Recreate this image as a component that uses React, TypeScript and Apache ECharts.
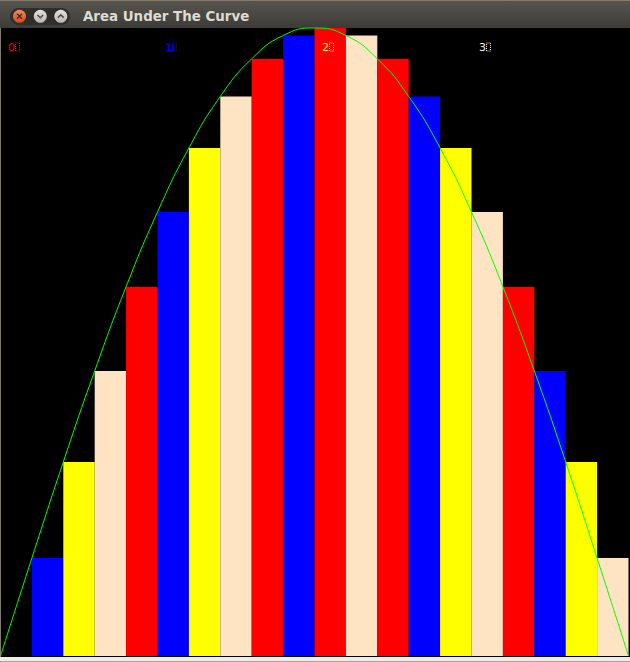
import React, { useEffect, useRef } from "react";
import * as echarts from "echarts";

// Bar index categories (20 left-Riemann rectangles over 0..π)
const categories = [
  "0", "1", "2", "3", "4", "5", "6", "7", "8", "9",
  "10", "11", "12", "13", "14", "15", "16", "17", "18", "19",
];
// Bar heights (fraction of the plot height)
const barValues = [
  0, 0.156, 0.309, 0.454, 0.588, 0.707, 0.809, 0.891, 0.951, 0.988,
  1.0, 0.988, 0.951, 0.891, 0.809, 0.707, 0.588, 0.454, 0.309, 0.156,
];
// Bar colours as seen
const barColors = [
  "#ff0000", "#0000ff", "#ffff00", "#ffe4c4", "#ff0000", "#0000ff", "#ffff00", "#ffe4c4", "#ff0000", "#0000ff",
  "#ff0000", "#ffe4c4", "#ff0000", "#0000ff", "#ffff00", "#ffe4c4", "#ff0000", "#0000ff", "#ffff00", "#ffe4c4",
];
// Curve heights at the 21 rectangle edges
const curveEdges = [0, 1, 2, 3, 4, 5, 6, 7, 8, 9, 10, 11, 12, 13, 14, 15, 16, 17, 18, 19, 20];
const curveValues = [
  0, 0.156, 0.309, 0.454, 0.588, 0.707, 0.809, 0.891, 0.951, 0.988,
  1.0, 0.988, 0.951, 0.891, 0.809, 0.707, 0.588, 0.454, 0.309, 0.156, 0,
];
// Tick labels along the top, at edges 0, 5, 10, 15
const tickLabels = ["0", "1", "2", "3"];
const tickEdges = [0, 5, 10, 15];
const tickColors = ["#ff0000", "#0000ff", "#ffff00", "#f4f0e8"];

const TITLE = "Area Under The Curve";

export default function App() {
  const ref = useRef<HTMLDivElement>(null);

  useEffect(() => {
    document.body.style.margin = "0";
    const chart = echarts.init(ref.current!, null, { renderer: "svg" });

    const chrome: any[] = [
      {
        type: "rect",
        shape: { x: 0, y: 0, width: 630, height: 28 },
        style: {
          fill: new echarts.graphic.LinearGradient(0, 0, 0, 1, [
            { offset: 0, color: "#58564f" },
            { offset: 1, color: "#3c3b37" },
          ]),
        },
        silent: true,
      },
      { type: "rect", shape: { x: 0, y: 0, width: 630, height: 1 }, style: { fill: "#857c6e" }, silent: true },
      {
        type: "rect",
        shape: { x: 10, y: 8, width: 60, height: 17, r: 8.5 },
        style: { fill: "#2f2e2b" },
        silent: true,
      },
      {
        type: "circle",
        shape: { cx: 19.5, cy: 16.3, r: 6.5 },
        style: {
          fill: new echarts.graphic.LinearGradient(0, 0, 0, 1, [
            { offset: 0, color: "#f58a62" },
            { offset: 1, color: "#d9471c" },
          ]),
        },
        silent: true,
      },
      { type: "line", shape: { x1: 17, y1: 13.8, x2: 22, y2: 18.8 }, style: { stroke: "#4a2a20", lineWidth: 1.5 }, silent: true },
      { type: "line", shape: { x1: 22, y1: 13.8, x2: 17, y2: 18.8 }, style: { stroke: "#4a2a20", lineWidth: 1.5 }, silent: true },
      {
        type: "circle",
        shape: { cx: 40.3, cy: 16.3, r: 6.5 },
        style: {
          fill: new echarts.graphic.LinearGradient(0, 0, 0, 1, [
            { offset: 0, color: "#e4e2dd" },
            { offset: 1, color: "#b9b6b0" },
          ]),
        },
        silent: true,
      },
      { type: "polyline", shape: { points: [[37.5, 15], [40.3, 17.8], [43.1, 15]] }, style: { stroke: "#4b4a46", lineWidth: 1.5, fill: null }, silent: true },
      {
        type: "circle",
        shape: { cx: 60.8, cy: 16.3, r: 6.5 },
        style: {
          fill: new echarts.graphic.LinearGradient(0, 0, 0, 1, [
            { offset: 0, color: "#e4e2dd" },
            { offset: 1, color: "#b9b6b0" },
          ]),
        },
        silent: true,
      },
      { type: "polyline", shape: { points: [[58, 17.6], [60.8, 14.8], [63.6, 17.6]] }, style: { stroke: "#4b4a46", lineWidth: 1.5, fill: null }, silent: true },
      {
        type: "text",
        x: 83,
        y: 16.5,
        style: {
          text: TITLE,
          fill: "#dfdbd2",
          font: "bold 13.4px 'DejaVu Sans'",
          textVerticalAlign: "middle",
        },
        silent: true,
      },
      { type: "rect", shape: { x: 0, y: 28, width: 1, height: 630 }, style: { fill: "#7f786d" }, silent: true },
      { type: "rect", shape: { x: 0, y: 657, width: 630, height: 4 }, style: { fill: "#efebe5" }, silent: true },
      { type: "rect", shape: { x: 0, y: 661, width: 630, height: 1 }, style: { fill: "#a8a398" }, silent: true },
    ];

    const option: any = {
      animation: false,
      backgroundColor: "#000000",
      grid: { left: 0.5, top: 28, width: 628, height: 628, containLabel: false },
      xAxis: [
        {
          type: "category",
          data: categories,
          boundaryGap: true,
          show: false,
        },
        { type: "value", min: 0, max: 20, show: false },
      ],
      yAxis: { type: "value", min: 0, max: 1, show: false },
      series: [
        {
          type: "bar",
          xAxisIndex: 0,
          data: barValues.map((v, i) => ({ value: v, itemStyle: { color: barColors[i] } })),
          barWidth: "100%",
          barCategoryGap: "0%",
          silent: true,
        },
        {
          type: "line",
          xAxisIndex: 1,
          data: curveEdges.map((e, i) => [e, curveValues[i]]),
          smooth: true,
          symbol: "none",
          lineStyle: { color: "#00ff00", width: 1 },
          clip: false,
          silent: true,
          z: 5,
        },
      ],
      graphic: chrome,
    };
    chart.setOption(option);

    const labels: any[] = [];
    tickLabels.forEach((t, k) => {
      const px = chart.convertToPixel({ xAxisIndex: 1 }, tickEdges[k]) as number;
      labels.push({
        type: "text",
        x: px + 7.5,
        y: 47,
        style: {
          text: t,
          fill: tickColors[k],
          font: "11px 'DejaVu Sans'",
          textVerticalAlign: "middle",
        },
        z: 10,
        silent: true,
      });
      labels.push({
        type: "rect",
        shape: { x: px + 15, y: 43, width: 4, height: 8 },
        style: { fill: null, stroke: tickColors[k], lineWidth: 1, lineDash: [1, 1] },
        z: 10,
        silent: true,
      });
    });
    chart.setOption({ graphic: [...chrome, ...labels] });

    return () => chart.dispose();
  }, []);

  return <div ref={ref} style={{ width: 630, height: 662 }} />;
}
